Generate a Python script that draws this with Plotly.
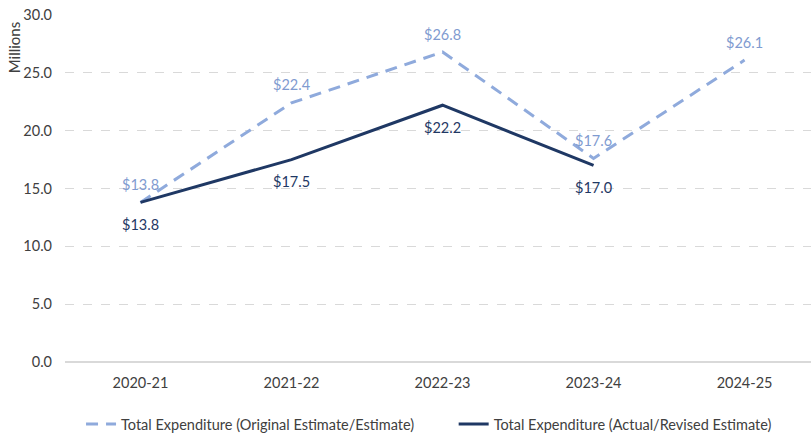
import plotly.graph_objects as go

# Fiscal years and expenditure (in millions)
years = ["2020-21", "2021-22", "2022-23", "2023-24", "2024-25"]
original_estimate = [13.8, 22.4, 26.8, 17.6, 26.1]
actual_revised = [13.8, 17.5, 22.2, 17.0, None]

light_blue = "#8FAADC"
light_blue_text = "#7F9BD0"
navy = "#1F3864"
font_family = "Lato, 'Open Sans', sans-serif"


def money(v):
    return f"${v:.1f}"


fig = go.Figure()

fig.add_trace(go.Scatter(
    x=years, y=original_estimate,
    mode="lines",
    name="Total Expenditure (Original Estimate/Estimate)",
    line=dict(color=light_blue, width=3, dash="12px,8px"),
    legend="legend",
))

fig.add_trace(go.Scatter(
    x=years, y=actual_revised,
    mode="lines",
    name="Total Expenditure (Actual/Revised Estimate)",
    line=dict(color=navy, width=3),
    legend="legend2",
))

# Value labels: estimates above their points, actuals below
labels = []
for yr, v in zip(years, original_estimate):
    labels.append(dict(
        x=yr, y=v, xref="x", yref="y", text=money(v), showarrow=False,
        yshift=18, xanchor="center", yanchor="middle",
        font=dict(size=14.5, color=light_blue_text, family=font_family),
    ))
for yr, v in zip(years, actual_revised):
    if v is None:
        continue
    labels.append(dict(
        x=yr, y=v, xref="x", yref="y", text=money(v), showarrow=False,
        yshift=-22, xanchor="center", yanchor="middle",
        font=dict(size=14.5, color=navy, family=font_family),
    ))

labels.append(dict(
    text="Millions",
    xref="paper", yref="paper",
    x=-0.068, y=0.905,
    xanchor="center", yanchor="middle",
    textangle=-90,
    showarrow=False,
    font=dict(size=15, color="#404040", family=font_family),
))

legend_style = dict(
    orientation="h",
    xanchor="left",
    yref="container",
    y=0.025, yanchor="middle",
    font=dict(size=14.5, color="#404040"),
    itemwidth=30,
    bgcolor="rgba(0,0,0,0)",
)

fig.update_layout(
    width=811, height=435,
    margin=dict(l=65, r=0, t=15, b=73),
    paper_bgcolor="white",
    plot_bgcolor="white",
    font=dict(family=font_family, size=14, color="#404040"),
    showlegend=True,
    legend=dict(x=0.0215, **legend_style),
    legend2=dict(x=0.521, **legend_style),
    xaxis=dict(
        type="category",
        range=[-0.5, 4.44],
        showgrid=False,
        showline=False,
        zeroline=False,
        ticks="",
        tickfont=dict(size=14.5, color="#404040"),
        ticklabelstandoff=10,
    ),
    yaxis=dict(
        range=[0, 30],
        dtick=5,
        tickformat=".1f",
        showgrid=True,
        gridcolor="#D9D9D9",
        griddash="dash",
        gridwidth=1,
        zeroline=True,
        zerolinecolor="#D9D9D9",
        zerolinewidth=1.5,
        showline=False,
        ticks="",
        tickfont=dict(size=14.5, color="#404040"),
        ticklabelstandoff=12,
    ),
    annotations=labels,
)

fig.write_html("out.html")
